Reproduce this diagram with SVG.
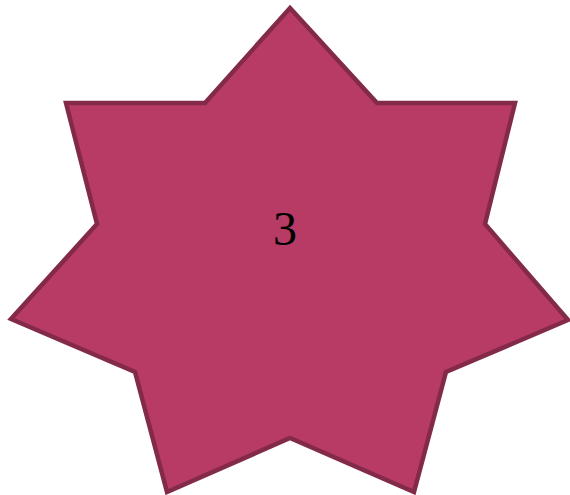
<svg xmlns="http://www.w3.org/2000/svg" width="570" height="495" viewBox="0 0 570 495">
<style>
.star{fill:#b73b65;stroke:#832a4b;stroke-width:4.5;stroke-linejoin:miter;stroke-miterlimit:10}
.lbl{font-family:"Liberation Serif","DejaVu Serif",serif;font-size:48px;fill:#000;text-anchor:middle}
</style>
<g id="node-3">
<polygon class="star" points="290,8 377,103 515,103 485,224 568,320 446,372 414,492 290,438 167,492 135,372 11,319 97,224 66,103 205,103"/>
<text class="lbl" x="285" y="245">3</text>
</g>
<g id="connectors"></g>
</svg>
